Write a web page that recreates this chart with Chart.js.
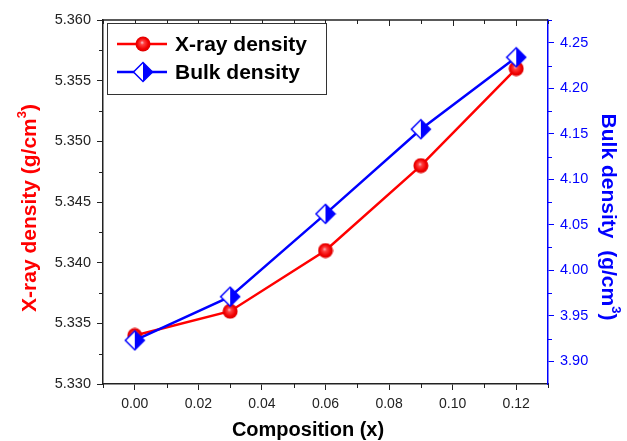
<!DOCTYPE html>
<html>
<head>
<meta charset="utf-8">
<title>X-ray and bulk density</title>
<script src="https://cdn.jsdelivr.net/npm/chart.js@4.4.1/dist/chart.umd.min.js"></script>
<style>
  html, body { margin: 0; padding: 0; background: #fff; }
</style>
</head>
<body>
<canvas id="densityChart" width="627" height="441"></canvas>
<script>
// data
const composition = [0.00, 0.03, 0.06, 0.09, 0.12];
const xrayDensity = [5.334, 5.336, 5.341, 5.348, 5.356];
const bulkDensity = [3.923, 3.971, 4.062, 4.155, 4.234];

// axis ticks
const xTicks = [0.00, 0.02, 0.04, 0.06, 0.08, 0.10, 0.12];
const xMinorTicks = [-0.01, 0.01, 0.03, 0.05, 0.07, 0.09, 0.11, 0.13];
const xrayTicks = [5.330, 5.335, 5.340, 5.345, 5.350, 5.355, 5.360];
const xrayMinorTicks = [5.3325, 5.3375, 5.3425, 5.3475, 5.3525, 5.3575];
const bulkTicks = [3.90, 3.95, 4.00, 4.05, 4.10, 4.15, 4.20, 4.25];
const bulkMinorTicks = [3.925, 3.975, 4.025, 4.075, 4.125, 4.175, 4.225, 4.275];

const RED = '#ff0000';
const BLUE = '#0000ff';
const FONT = '"Liberation Sans", Arial, sans-serif';

// red shaded ball marker
function makeBall() {
  const c = document.createElement('canvas');
  c.width = 16; c.height = 16;
  const g = c.getContext('2d');
  const grad = g.createRadialGradient(7, 6.5, 0, 8, 8, 8);
  grad.addColorStop(0, '#f4c8d0');
  grad.addColorStop(0.25, '#ff4040');
  grad.addColorStop(0.7, '#f00000');
  grad.addColorStop(1, '#d80000');
  g.fillStyle = grad;
  g.beginPath();
  g.arc(8, 8, 7.5, 0, Math.PI * 2);
  g.fill();
  return c;
}

// half filled diamond (left white, right blue)
function makeDiamond() {
  const c = document.createElement('canvas');
  c.width = 22; c.height = 22;
  const g = c.getContext('2d');
  const m = 11, h = 9.5;
  g.fillStyle = '#fff';
  g.beginPath();
  g.moveTo(m, m - h); g.lineTo(m - h, m); g.lineTo(m, m + h); g.closePath();
  g.fill();
  g.fillStyle = BLUE;
  g.beginPath();
  g.moveTo(m, m - h); g.lineTo(m + h, m); g.lineTo(m, m + h); g.closePath();
  g.fill();
  g.strokeStyle = BLUE;
  g.lineWidth = 1.5;
  g.beginPath();
  g.moveTo(m, m - h); g.lineTo(m + h, m); g.lineTo(m, m + h); g.lineTo(m - h, m); g.closePath();
  g.stroke();
  return c;
}

const ball = makeBall();
const diamond = makeDiamond();

// minor ticks, top frame line and top ticks
const frameTicks = {
  id: 'frameTicks',
  afterDraw(chart) {
    const { ctx, chartArea: a, scales } = chart;
    const tick = (x1, y1, x2, y2) => {
      ctx.beginPath(); ctx.moveTo(x1, y1); ctx.lineTo(x2, y2); ctx.stroke();
    };
    ctx.save();
    ctx.strokeStyle = '#222';
    ctx.lineWidth = 1.5;
    tick(a.left, a.top, a.right, a.top);
    ctx.lineWidth = 1;
    xTicks.forEach(v => {
      const px = Math.round(scales.x.getPixelForValue(v)) + 0.5;
      tick(px, a.top, px, a.top + 6);
    });
    xMinorTicks.forEach(v => {
      const px = Math.round(scales.x.getPixelForValue(v)) + 0.5;
      tick(px, a.top, px, a.top + 4);
      tick(px, a.bottom, px, a.bottom + 4);
    });
    xrayMinorTicks.forEach(v => {
      const py = Math.round(scales.y.getPixelForValue(v)) + 0.5;
      tick(a.left - 4, py, a.left, py);
    });
    ctx.strokeStyle = BLUE;
    bulkMinorTicks.forEach(v => {
      const py = Math.round(scales.y2.getPixelForValue(v)) + 0.5;
      tick(a.right, py, a.right + 4, py);
    });
    ctx.restore();
  }
};

// axis titles with a real superscript 3
function drawTitle(ctx, parts, cx, cy, angle, color, size) {
  ctx.save();
  ctx.translate(cx, cy);
  ctx.rotate(angle);
  ctx.fillStyle = color;
  ctx.textBaseline = 'alphabetic';
  const fonts = parts.map(p => 'bold ' + (p.sup ? Math.round(size * 0.62) : size) + 'px ' + FONT);
  let total = 0;
  const widths = parts.map((p, i) => { ctx.font = fonts[i]; const w = ctx.measureText(p.t).width; total += w; return w; });
  let x = -total / 2;
  const base = size * 0.36;
  parts.forEach((p, i) => {
    ctx.font = fonts[i];
    ctx.fillText(p.t, x, p.sup ? base - size * 0.45 : base);
    x += widths[i];
  });
  ctx.restore();
}

const axisTitles = {
  id: 'axisTitles',
  afterDraw(chart) {
    const ctx = chart.ctx;
    drawTitle(ctx, [{ t: 'Composition (x)' }], 308, 429, 0, '#000', 20);
    drawTitle(ctx, [{ t: 'X-ray density (g/cm' }, { t: '3', sup: true }, { t: ')' }], 28, 208, -Math.PI / 2, RED, 21);
    drawTitle(ctx, [{ t: 'Bulk density  (g/cm' }, { t: '3', sup: true }, { t: ')' }], 610, 217, Math.PI / 2, BLUE, 21);
  }
};

// legend box inside the plot, line + marker samples
const boxLegend = {
  id: 'boxLegend',
  afterDraw(chart) {
    const { ctx } = chart;
    const x0 = 107, y0 = 23, w = 219, h = 71;
    ctx.save();
    ctx.fillStyle = '#fff';
    ctx.fillRect(x0, y0, w, h);
    ctx.strokeStyle = '#333';
    ctx.lineWidth = 1;
    ctx.strokeRect(x0 + 0.5, y0 + 0.5, w, h);
    chart.data.datasets.forEach((ds, i) => {
      const y = 44 + i * 28;
      ctx.strokeStyle = ds.borderColor;
      ctx.lineWidth = 2.5;
      ctx.beginPath(); ctx.moveTo(117, y); ctx.lineTo(167, y); ctx.stroke();
      const img = ds.pointStyle;
      ctx.drawImage(img, 143 - img.width / 2, y - img.height / 2);
      ctx.fillStyle = '#000';
      ctx.font = 'bold 21px ' + FONT;
      ctx.textBaseline = 'middle';
      ctx.fillText(ds.label, 175, y + 1);
    });
    ctx.restore();
  }
};

new Chart(document.getElementById('densityChart'), {
  type: 'line',
  data: {
    datasets: [
      {
        label: 'X-ray density',
        data: composition.map((x, i) => ({ x: x, y: xrayDensity[i] })),
        yAxisID: 'y',
        borderColor: RED,
        borderWidth: 2.5,
        pointStyle: ball,
        order: 2
      },
      {
        label: 'Bulk density',
        data: composition.map((x, i) => ({ x: x, y: bulkDensity[i] })),
        yAxisID: 'y2',
        borderColor: BLUE,
        borderWidth: 2.5,
        pointStyle: diamond,
        order: 1
      }
    ]
  },
  options: {
    responsive: false,
    animation: false,
    layout: { padding: { top: 20, left: 0, right: 0, bottom: 0 } },
    plugins: { legend: { display: false }, tooltip: { enabled: false } },
    scales: {
      x: {
        type: 'linear',
        min: -0.01,
        max: 0.13,
        afterBuildTicks: s => { s.ticks = xTicks.map(v => ({ value: v })); },
        afterFit: s => { s.height = 57; },
        ticks: {
          autoSkip: false,
          maxRotation: 0,
          padding: 6,
          color: '#222',
          font: { family: FONT, size: 14 },
          callback: v => v.toFixed(2)
        },
        grid: { drawOnChartArea: false, tickLength: 6, color: '#222', lineWidth: 1 },
        border: { color: '#222', width: 1.5 }
      },
      y: {
        type: 'linear',
        position: 'left',
        min: 5.330,
        max: 5.360,
        afterBuildTicks: s => { s.ticks = xrayTicks.map(v => ({ value: v })); },
        afterFit: s => { s.width = 103; },
        ticks: {
          autoSkip: false,
          padding: 6,
          color: '#222',
          font: { family: FONT, size: 14.5 },
          callback: v => v.toFixed(3)
        },
        grid: { drawOnChartArea: false, tickLength: 6, color: '#222', lineWidth: 1 },
        border: { color: '#222', width: 1.5 }
      },
      y2: {
        type: 'linear',
        position: 'right',
        min: 3.875,
        max: 4.275,
        afterBuildTicks: s => { s.ticks = bulkTicks.map(v => ({ value: v })); },
        afterFit: s => { s.width = 79; },
        ticks: {
          autoSkip: false,
          padding: 6,
          color: BLUE,
          font: { family: FONT, size: 14.5 },
          callback: v => v.toFixed(2)
        },
        grid: { drawOnChartArea: false, tickLength: 6, color: BLUE, lineWidth: 1 },
        border: { color: BLUE, width: 1.5 }
      }
    }
  },
  plugins: [frameTicks, axisTitles, boxLegend]
});
</script>
</body>
</html>
